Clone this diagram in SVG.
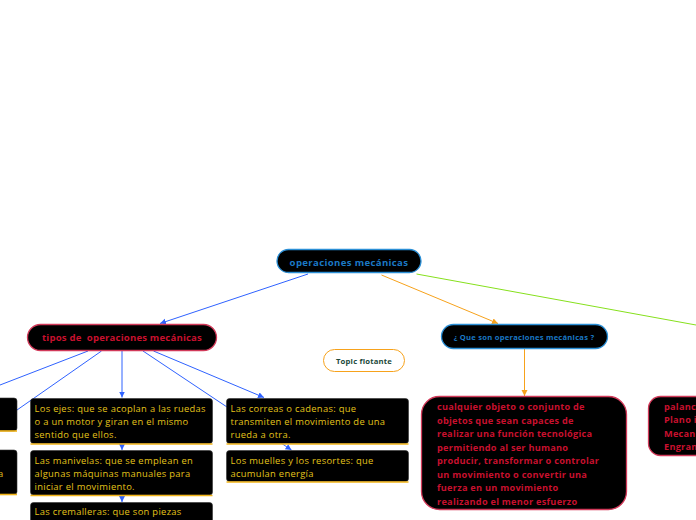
<svg xmlns="http://www.w3.org/2000/svg" width="696" height="520" viewBox="0 0 696 520">
<style>
  .pill{fill:#000;stroke-width:1.3}
  .blue{stroke:#2b8fd6}
  .red{stroke:#d23a5a}
  .tb{font-family:"Open Sans","Noto Sans",sans-serif;font-weight:bold}
  .tr{font-family:"Open Sans","Noto Sans",sans-serif}
  .ybox{fill:#000;stroke:#333;stroke-width:0.6}
  .uline{stroke:#f2b418;stroke-width:1.6}
  .ytxt{fill:#e3c21a;font-size:9.4px;letter-spacing:0.3px}
  .rtxt{fill:#c8102e;font-size:9.2px;letter-spacing:0.25px}
  .lb{stroke:#2f62ff;stroke-width:1;fill:none}
  .lo{stroke:#f7a21b;stroke-width:1;fill:none}
  .lg{stroke:#86e01c;stroke-width:1;fill:none}
</style>
<defs>
  <marker id="ab" markerUnits="userSpaceOnUse" markerWidth="8" markerHeight="8" refX="6" refY="3" orient="auto"><path d="M0,0 L6,3 L0,6 z" fill="#2f62ff"/></marker>
  <marker id="ao" markerUnits="userSpaceOnUse" markerWidth="8" markerHeight="8" refX="6" refY="3" orient="auto"><path d="M0,0 L6,3 L0,6 z" fill="#f7a21b"/></marker>
</defs>
<rect width="696" height="520" fill="#fff"/>
<g id="connectors">
  <line class="lb" x1="308" y1="274" x2="160" y2="323.5" marker-end="url(#ab)"/>
  <line class="lo" x1="381.5" y1="275" x2="498" y2="323.5" marker-end="url(#ao)"/>
  <line class="lg" x1="416.5" y1="274" x2="696" y2="325"/>
  <line class="lo" x1="524.5" y1="349" x2="524.5" y2="396" marker-end="url(#ao)"/>
  <line class="lb" x1="88" y1="351" x2="0" y2="385"/>
  <line class="lb" x1="101.5" y1="351" x2="17" y2="410"/>
  <line class="lb" x1="122" y1="351" x2="122" y2="397.5" stroke-width="1.6" marker-end="url(#ab)"/>
  <line class="lb" x1="143" y1="351" x2="291.5" y2="450" marker-end="url(#ab)"/>
  <line class="lb" x1="153.5" y1="351" x2="264" y2="397.5" marker-end="url(#ab)"/>
  <line class="lb" x1="122" y1="444" x2="122" y2="450" marker-end="url(#ab)"/>
  <line class="lb" x1="122" y1="495.5" x2="122" y2="502" marker-end="url(#ab)"/>
</g>
<g id="root">
  <rect class="pill blue" x="277" y="249.5" width="144" height="23" rx="11.5"/>
  <text class="tb" x="349" y="265.5" font-size="9.6" letter-spacing="0.35" fill="#1b78c4" text-anchor="middle">operaciones mecánicas</text>
</g>
<g id="tipos">
  <rect class="pill red" x="27.5" y="324.5" width="189" height="26" rx="13"/>
  <text class="tb" x="122" y="341" font-size="9.6" letter-spacing="0.18" fill="#c8102e" text-anchor="middle" xml:space="preserve">tipos de  operaciones mecánicas</text>
</g>
<g id="quesson">
  <rect class="pill blue" x="441.5" y="324.5" width="166" height="24" rx="12"/>
  <text class="tb" x="524" y="339.5" font-size="7.6" letter-spacing="0.25" fill="#1b78c4" text-anchor="middle">¿ Que son operaciones mecánicas ?</text>
</g>
<g id="topic-flotante">
  <rect x="323.5" y="349.5" width="81" height="22" rx="11" fill="#fff" stroke="#f7a21b" stroke-width="1"/>
  <text class="tb" x="364" y="363.5" font-size="7.7" letter-spacing="0.2" fill="#1d4a3c" text-anchor="middle">Topic flotante</text>
</g>
<g id="respuesta">
  <rect x="421.5" y="396.5" width="205" height="113" rx="18" fill="#000" stroke="#d23a5a" stroke-width="1.3"/>
  <text class="tb rtxt">
    <tspan x="437" y="410">cualquier objeto o conjunto de</tspan>
    <tspan x="437" y="423.5">objetos que sean capaces de</tspan>
    <tspan x="437" y="437">realizar una función tecnológica</tspan>
    <tspan x="437" y="450.5">permitiendo al ser humano</tspan>
    <tspan x="437" y="464">producir, transformar o controlar</tspan>
    <tspan x="437" y="477.5">un movimiento o convertir una</tspan>
    <tspan x="437" y="491">fuerza en un movimiento</tspan>
    <tspan x="437" y="504.5">realizando el menor esfuerzo</tspan>
  </text>
</g>
<g id="mecanismos">
  <rect x="648.5" y="396.5" width="80" height="59" rx="12" fill="#000" stroke="#d23a5a" stroke-width="1.3"/>
  <text class="tb rtxt">
    <tspan x="664" y="410">palanc</tspan>
    <tspan x="664" y="423">Plano i</tspan>
    <tspan x="664" y="436.5">Mecan</tspan>
    <tspan x="664" y="450">Engran</tspan>
  </text>
</g>
<g id="left1">
  <rect class="ybox" x="-10" y="398" width="27" height="33" rx="3"/>
  <line class="uline" x1="-10" y1="431" x2="17" y2="431"/>
</g>
<g id="left2">
  <rect class="ybox" x="-10" y="450" width="27" height="44.5" rx="3"/>
  <line class="uline" x1="-10" y1="494.5" x2="17" y2="494.5"/>
  <text class="tr ytxt" x="-2" y="476.5">a</text>
</g>
<g id="ejes">
  <rect class="ybox" x="30.5" y="398.5" width="182" height="45" rx="3"/>
  <line class="uline" x1="30.5" y1="444" x2="212.5" y2="444"/>
  <text class="tr ytxt">
    <tspan x="34.5" y="411.5">Los ejes: que se acoplan a las ruedas</tspan>
    <tspan x="34.5" y="425">o a un motor y giran en el mismo</tspan>
    <tspan x="34.5" y="438">sentido que ellos.</tspan>
  </text>
</g>
<g id="manivelas">
  <rect class="ybox" x="30.5" y="450.5" width="182" height="44.5" rx="3"/>
  <line class="uline" x1="30.5" y1="495.5" x2="212.5" y2="495.5"/>
  <text class="tr ytxt">
    <tspan x="34.5" y="463.5">Las manivelas: que se emplean en</tspan>
    <tspan x="34.5" y="477">algunas máquinas manuales para</tspan>
    <tspan x="34.5" y="490">iniciar el movimiento.</tspan>
  </text>
</g>
<g id="cremalleras">
  <rect class="ybox" x="30.5" y="502.5" width="182" height="30" rx="3"/>
  <text class="tr ytxt">
    <tspan x="34.5" y="515">Las cremalleras: que son piezas</tspan>
  </text>
</g>
<g id="correas">
  <rect class="ybox" x="226.5" y="398.5" width="182" height="45" rx="3"/>
  <line class="uline" x1="226.5" y1="444" x2="408.5" y2="444"/>
  <text class="tr ytxt">
    <tspan x="230.5" y="411.5">Las correas o cadenas: que</tspan>
    <tspan x="230.5" y="425">transmiten el movimiento de una</tspan>
    <tspan x="230.5" y="438">rueda a otra.</tspan>
  </text>
</g>
<g id="muelles">
  <rect class="ybox" x="226.5" y="450.5" width="182" height="31" rx="3"/>
  <line class="uline" x1="226.5" y1="482" x2="408.5" y2="482"/>
  <text class="tr ytxt">
    <tspan x="230.5" y="463.5">Los muelles y los resortes: que</tspan>
    <tspan x="230.5" y="477">acumulan energía</tspan>
  </text>
</g>
</svg>
